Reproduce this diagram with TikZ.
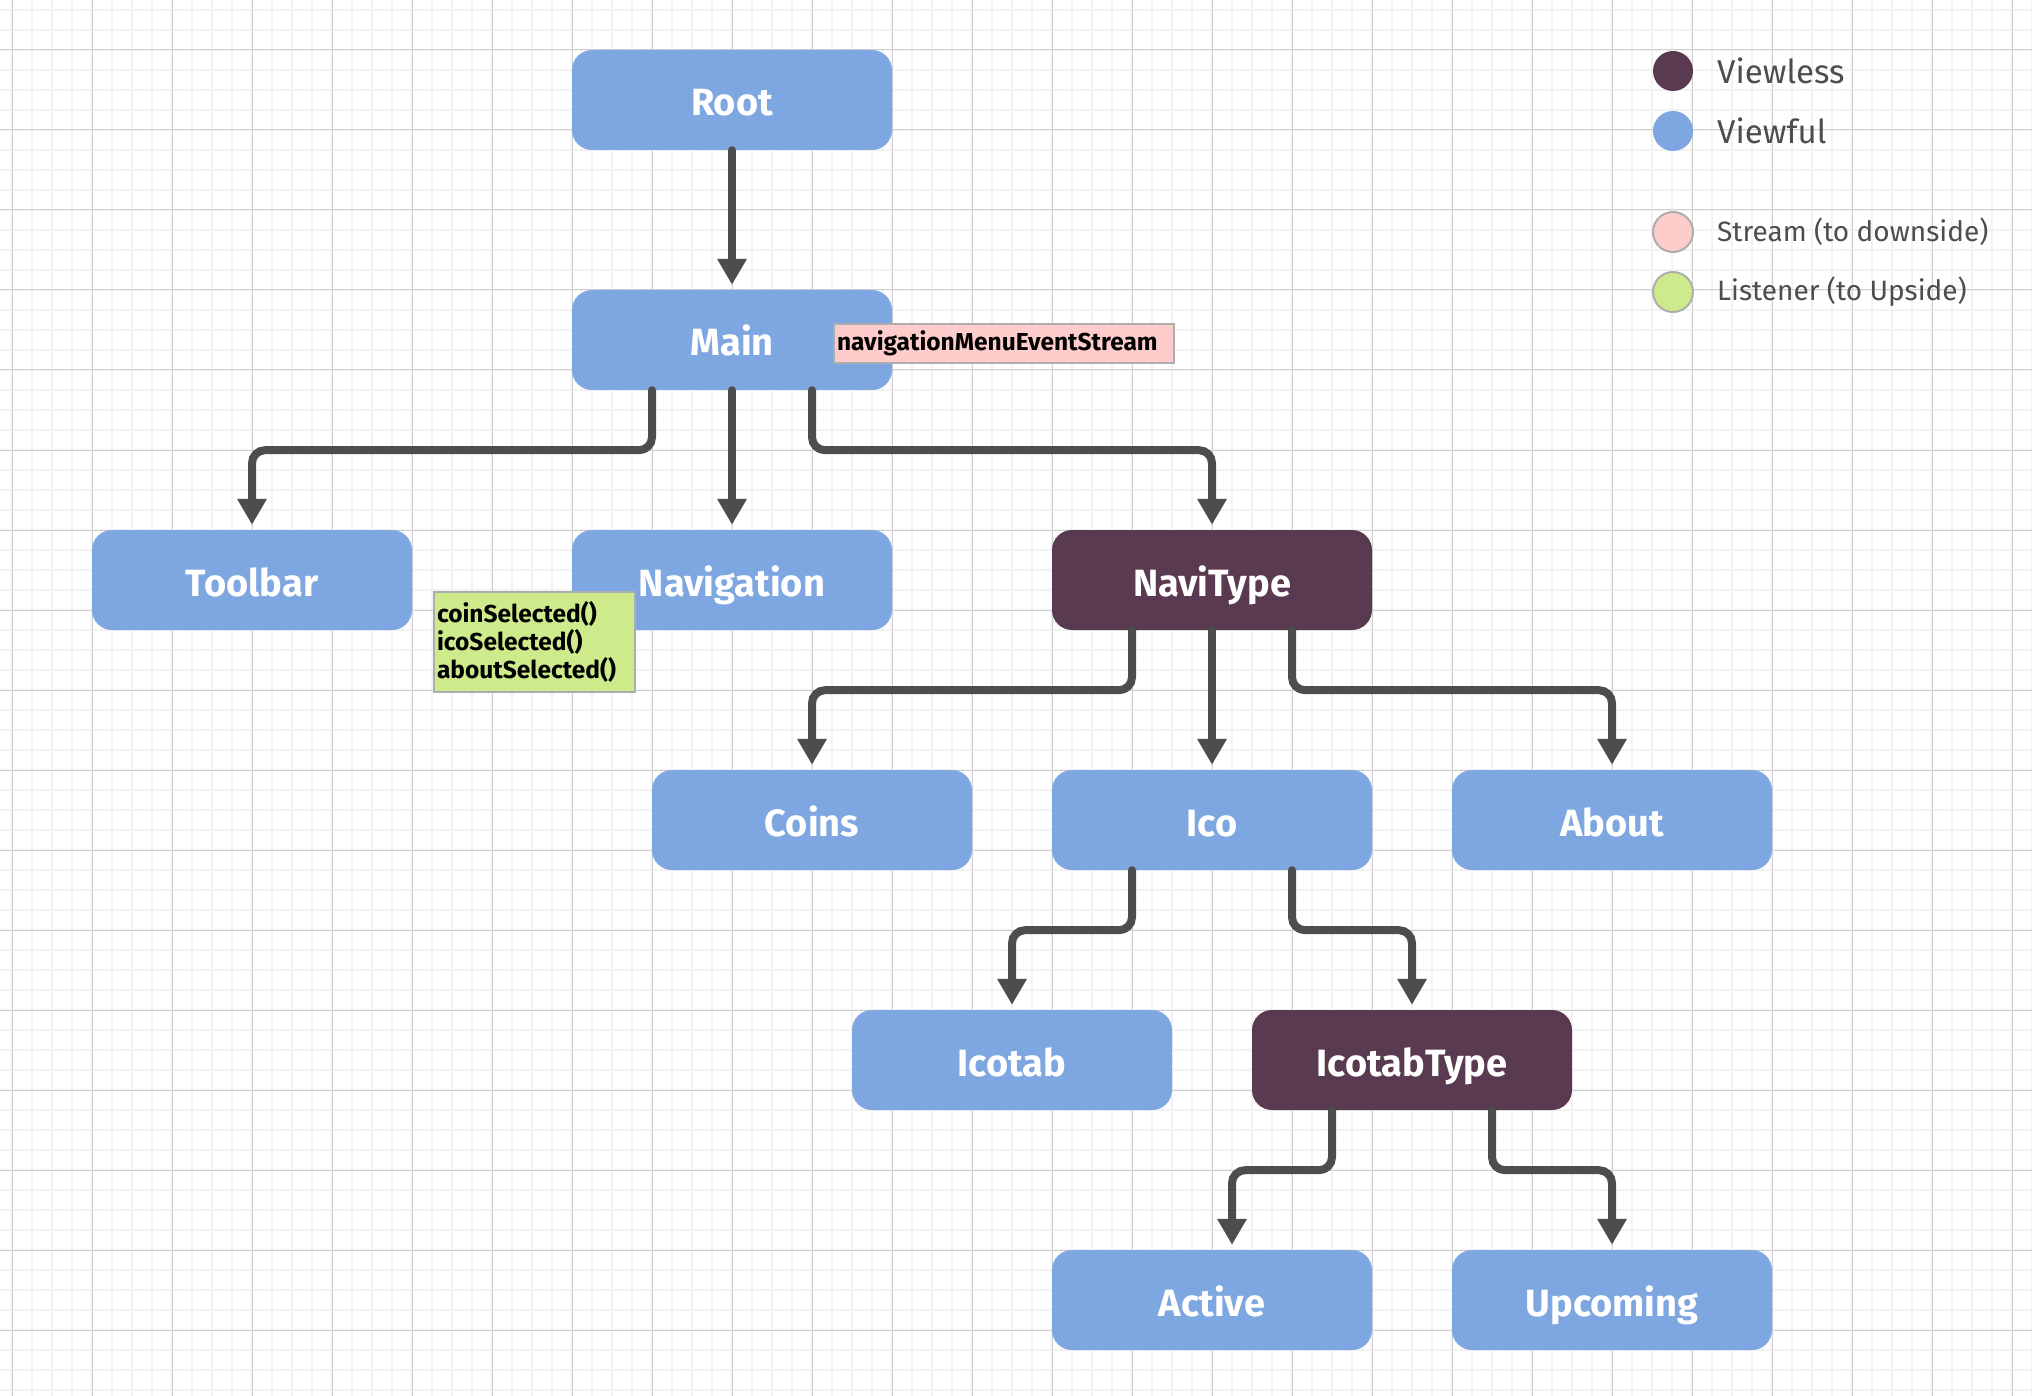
\documentclass[tikz,border=0pt]{standalone}
\usepackage{fontspec}
\setmainfont{Fira Sans}
\usetikzlibrary{arrows.meta}

\definecolor{viewfulblue}{HTML}{7EA6E0}
\definecolor{viewlesspurple}{HTML}{5A3A50}
\definecolor{streampink}{HTML}{FFCCCC}
\definecolor{listengreen}{HTML}{CDEB8B}
\definecolor{edgegray}{HTML}{4D4D4D}
\definecolor{tagborder}{HTML}{ADADAD}
\definecolor{minorgrid}{HTML}{F2F2F2}
\definecolor{majorgrid}{HTML}{D0D0D0}

\tikzset{
	view/.style={rectangle, rounded corners=20pt, minimum width=320pt, minimum height=100pt,
		text height=34pt, text depth=2pt,
		text=white, font=\fontsize{38}{40}\selectfont\bfseries},
	viewful/.style={view, fill=viewfulblue},
	viewless/.style={view, fill=viewlesspurple},
	link/.style={draw=edgegray, line width=8pt, line cap=round, rounded corners=13pt, shorten >=5pt,
		-{Triangle[width=28pt,length=26pt]}},
	tag/.style={draw=tagborder, line width=2pt, align=left, anchor=north west, inner sep=3pt,
		font=\fontsize{24.5}{28}\selectfont\bfseries},
	keydot/.style={circle, minimum size=40pt, inner sep=0pt},
	keytext/.style={anchor=west, inner sep=0pt, text=edgegray},
}

\begin{document}
\begin{tikzpicture}[x=1pt, y=-1pt]
	\useasboundingbox (0,0) rectangle (2032,1396);
	\fill[white] (0,0) rectangle (2032,1396);
	% grid
	\foreach \gx in {12,32,...,2032}
		\draw[minorgrid, line width=2pt] (\gx,0) -- (\gx,1396);
	\foreach \gy in {10,30,...,1396}
		\draw[minorgrid, line width=2pt] (0,\gy) -- (2032,\gy);
	\foreach \gx in {12,92,...,2032}
		\draw[majorgrid, line width=1pt] (\gx,0) -- (\gx,1396);
	\foreach \gy in {50,130,...,1396}
		\draw[majorgrid, line width=1pt] (0,\gy) -- (2032,\gy);

	% views
	\node[viewful] (root) at (732, 100) {Root};
	\node[viewful] (main) at (732, 340) {Main};
	\node[viewful] (toolbar) at (252, 580) {Toolbar};
	\node[viewful] (navigation) at (732, 580) {Navigation};
	\node[viewless] (navitype) at (1212, 580) {NaviType};
	\node[viewful] (coins) at (812, 820) {Coins};
	\node[viewful] (ico) at (1212, 820) {Ico};
	\node[viewful] (about) at (1612, 820) {About};
	\node[viewful] (icotab) at (1012, 1060) {Icotab};
	\node[viewless] (icotabtype) at (1412, 1060) {IcotabType};
	\node[viewful] (active) at (1212, 1300) {Active};
	\node[viewful] (upcoming) at (1612, 1300) {Upcoming};

	% links
	\draw[link] (root.south) -- (main.north);
	\draw[link] ([xshift=-80pt]main.south) -- ++(0,60) -| (toolbar.north);
	\draw[link] (main.south) -- (navigation.north);
	\draw[link] ([xshift=80pt]main.south) -- ++(0,60) -| (navitype.north);
	\draw[link] ([xshift=-80pt]navitype.south) -- ++(0,60) -| (coins.north);
	\draw[link] (navitype.south) -- (ico.north);
	\draw[link] ([xshift=80pt]navitype.south) -- ++(0,60) -| (about.north);
	\draw[link] ([xshift=-80pt]ico.south) -- ++(0,60) -| (icotab.north);
	\draw[link] ([xshift=80pt]ico.south) -- ++(0,60) -| (icotabtype.north);
	\draw[link] ([xshift=-80pt]icotabtype.south) -- ++(0,60) -| ([xshift=20pt]active.north);
	\draw[link] ([xshift=80pt]icotabtype.south) -- ++(0,60) -| (upcoming.north);

	% stream and listener tags
	\node[tag, fill=streampink, text width=334pt, minimum height=39pt] (stream) at (833, 323)
		{navigationMenuEventStream};
	\node[tag, fill=listengreen, text width=195pt, minimum height=100pt] (listener) at (433, 591)
		{coinSelected()\\icoSelected()\\aboutSelected()};

	% legend
	\node[keydot, fill=viewlesspurple] (keyviewless) at (1673, 71) {};
	\node[keydot, fill=viewfulblue] (keyviewful) at (1673, 131) {};
	\node[keydot, fill=streampink, draw=tagborder, line width=2pt] (keystream) at (1673, 232) {};
	\node[keydot, fill=listengreen, draw=tagborder, line width=2pt] (keylistener) at (1673, 292) {};
	\node[keytext, font=\fontsize{33}{36}\selectfont] (viewlesstext) at (1717, 71) {Viewless};
	\node[keytext, font=\fontsize{33}{36}\selectfont] (viewfultext) at (1717, 131) {Viewful};
	\node[keytext, font=\fontsize{28}{32}\selectfont] (streamtext) at (1717, 232) {Stream (to downside)};
	\node[keytext, font=\fontsize{28}{32}\selectfont] (listenertext) at (1717, 292) {Listener (to Upside)};
\end{tikzpicture}
\end{document}
